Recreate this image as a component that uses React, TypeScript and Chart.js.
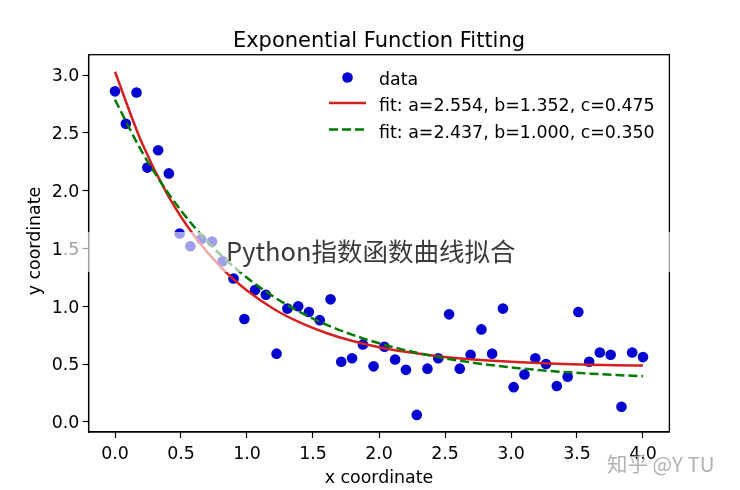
import React, { useEffect, useRef } from 'react';
import { Chart, registerables } from 'chart.js';
Chart.register(...registerables);

const FONT = '"DejaVu Sans", Verdana, sans-serif';

const title = 'Exponential Function Fitting';
const xLabel = 'x coordinate';
const yLabel = 'y coordinate';
const watermark = 'Python指数函数曲线拟合';
const credit = '知乎 @Y TU';

const xTicks = [0, 0.5, 1, 1.5, 2, 2.5, 3, 3.5, 4];
const yTicks = [0, 0.5, 1, 1.5, 2, 2.5, 3];

const dataX = [
  0, 0.082, 0.163, 0.245, 0.327, 0.408, 0.49, 0.571, 0.653, 0.735,
  0.816, 0.898, 0.98, 1.061, 1.143, 1.224, 1.306, 1.388, 1.469, 1.551,
  1.633, 1.714, 1.796, 1.878, 1.959, 2.041, 2.122, 2.204, 2.286, 2.367,
  2.449, 2.531, 2.612, 2.694, 2.776, 2.857, 2.939, 3.02, 3.102, 3.184,
  3.265, 3.347, 3.429, 3.51, 3.592, 3.673, 3.755, 3.837, 3.918, 4.0,
];
const dataY = [
  2.86, 2.58, 2.85, 2.2, 2.35, 2.15, 1.63, 1.52, 1.58, 1.56,
  1.39, 1.24, 0.89, 1.14, 1.1, 0.59, 0.98, 1.0, 0.95, 0.88,
  1.06, 0.52, 0.55, 0.67, 0.48, 0.65, 0.54, 0.45, 0.06, 0.46,
  0.55, 0.93, 0.46, 0.58, 0.8, 0.59, 0.98, 0.3, 0.41, 0.55,
  0.5, 0.31, 0.39, 0.95, 0.52, 0.6, 0.58, 0.13, 0.6, 0.56,
];

const fitX = [
  0, 0.2, 0.4, 0.6, 0.8, 1.0, 1.2, 1.4, 1.6, 1.8, 2.0,
  2.2, 2.4, 2.6, 2.8, 3.0, 3.2, 3.4, 3.6, 3.8, 4.0,
];
const fitRedY = [
  3.029, 2.424, 1.962, 1.61, 1.341, 1.136, 0.979, 0.86, 0.769, 0.699, 0.646,
  0.606, 0.575, 0.551, 0.533, 0.519, 0.509, 0.501, 0.495, 0.49, 0.487,
];
const fitGreenY = [
  2.787, 2.345, 1.984, 1.687, 1.445, 1.247, 1.084, 0.951, 0.842, 0.753, 0.68,
  0.62, 0.571, 0.531, 0.498, 0.471, 0.449, 0.431, 0.417, 0.405, 0.395,
];

const legendLabels = [
  'data',
  'fit: a=2.554, b=1.352, c=0.475',
  'fit: a=2.437, b=1.000, c=0.350',
];

const BLUE = '#0000d0';
const RED = '#d42020';
const GREEN = '#007a00';

const decor = {
  id: 'decor',
  afterDraw(chart: any) {
    const { ctx, chartArea: a } = chart;
    const sx = chart.scales.x;
    const sy = chart.scales.y;
    ctx.save();
    // frame
    ctx.strokeStyle = '#000';
    ctx.lineWidth = 1.3;
    ctx.strokeRect(a.left, a.top, a.right - a.left, a.bottom - a.top);

    // tick labels
    ctx.fillStyle = '#000';
    ctx.textBaseline = 'alphabetic';
    ctx.font = `17.4px ${FONT}`;
    ctx.textAlign = 'center';
    xTicks.forEach((v) => ctx.fillText(v.toFixed(1), sx.getPixelForValue(v), 459.3));
    ctx.textAlign = 'right';
    yTicks.forEach((v) => ctx.fillText(v.toFixed(1), 79.3, sy.getPixelForValue(v) + 6.3));

    // title
    ctx.textAlign = 'center';
    ctx.font = `21px ${FONT}`;
    ctx.fillText(title, (a.left + a.right) / 2, 46.5);

    // axis labels
    ctx.font = `17.4px ${FONT}`;
    ctx.fillText(xLabel, (a.left + a.right) / 2, 483);
    ctx.save();
    ctx.translate(39.5, 241);
    ctx.rotate(-Math.PI / 2);
    ctx.fillText(yLabel, 0, 0);
    ctx.restore();

    // legend
    ctx.textAlign = 'left';
    ctx.font = `17.4px ${FONT}`;
    const lx0 = 329, lx1 = 366, tx = 379;
    const marks = [77.5, 103, 129.5];
    const bases = [84.5, 111, 137.5];
    ctx.fillStyle = BLUE;
    ctx.beginPath();
    ctx.arc(347.5, marks[0], 5.3, 0, Math.PI * 2);
    ctx.fill();
    ctx.lineWidth = 2.5;
    ctx.strokeStyle = RED;
    ctx.beginPath();
    ctx.moveTo(lx0, marks[1]);
    ctx.lineTo(lx1, marks[1]);
    ctx.stroke();
    ctx.strokeStyle = GREEN;
    ctx.setLineDash([9, 4]);
    ctx.beginPath();
    ctx.moveTo(lx0, marks[2]);
    ctx.lineTo(lx1, marks[2]);
    ctx.stroke();
    ctx.setLineDash([]);
    ctx.fillStyle = '#000';
    legendLabels.forEach((t, i) => ctx.fillText(t, tx, bases[i]));

    // watermark band
    ctx.fillStyle = 'rgba(255,255,255,0.62)';
    ctx.fillRect(64, 232, 612, 40);
    ctx.fillStyle = '#3a3a3a';
    ctx.font = `25.5px "Noto Sans CJK SC", "Noto Sans", sans-serif`;
    ctx.textAlign = 'left';
    ctx.fillText(watermark, 226, 261);

    // credit
    ctx.fillStyle = 'rgba(165,165,165,0.85)';
    ctx.font = `20.5px "Noto Sans CJK SC", sans-serif`;
    ctx.fillText(credit, 607, 472);
    ctx.restore();
  },
};

export default function App() {
  const ref = useRef<HTMLCanvasElement>(null);
  useEffect(() => {
    document.body.style.margin = '0';
    const chart = new Chart(ref.current!, {
      type: 'scatter',
      data: {
        datasets: [
          {
            label: legendLabels[0],
            data: dataX.map((x, i) => ({ x, y: dataY[i] })),
            backgroundColor: BLUE,
            borderColor: BLUE,
            pointRadius: 5.3,
            pointBorderWidth: 0,
            showLine: false,
            order: 3,
          },
          {
            label: legendLabels[1],
            data: fitX.map((x, i) => ({ x, y: fitRedY[i] })),
            borderColor: RED,
            borderWidth: 2.5,
            pointRadius: 0,
            showLine: true,
            cubicInterpolationMode: 'monotone',
            order: 2,
          },
          {
            label: legendLabels[2],
            data: fitX.map((x, i) => ({ x, y: fitGreenY[i] })),
            borderColor: GREEN,
            borderWidth: 2.5,
            borderDash: [9, 4],
            pointRadius: 0,
            showLine: true,
            cubicInterpolationMode: 'monotone',
            order: 1,
          },
        ] as any,
      },
      options: {
        animation: false,
        responsive: false,
        maintainAspectRatio: false,
        layout: { padding: { left: 0, top: 54.7, right: 70.6, bottom: 0 } },
        plugins: { legend: { display: false }, title: { display: false }, tooltip: { enabled: false } },
        scales: {
          x: {
            type: 'linear',
            min: -0.2,
            max: 4.2,
            afterFit: (s: any) => { s.height = 58; },
            afterBuildTicks: (s: any) => { s.ticks = xTicks.map((v) => ({ value: v })); },
            grid: { drawOnChartArea: false, drawTicks: true, tickLength: 6, tickColor: '#000', tickWidth: 1.2 },
            border: { display: true, color: '#000', width: 1.3 },
            ticks: { display: false },
          },
          y: {
            type: 'linear',
            min: -0.088,
            max: 3.177,
            afterFit: (s: any) => { s.width = 88.6; },
            afterBuildTicks: (s: any) => { s.ticks = yTicks.map((v) => ({ value: v })); },
            grid: { drawOnChartArea: false, drawTicks: true, tickLength: 6, tickColor: '#000', tickWidth: 1.2 },
            border: { display: true, color: '#000', width: 1.3 },
            ticks: { display: false },
          },
        },
      },
      plugins: [decor],
    });
    return () => chart.destroy();
  }, []);
  return (
    <div style={{ position: 'absolute', left: 0, top: 0, width: 740, height: 490, background: '#fff' }}>
      <canvas ref={ref} width={740} height={490} style={{ width: 740, height: 490 }} />
    </div>
  );
}
